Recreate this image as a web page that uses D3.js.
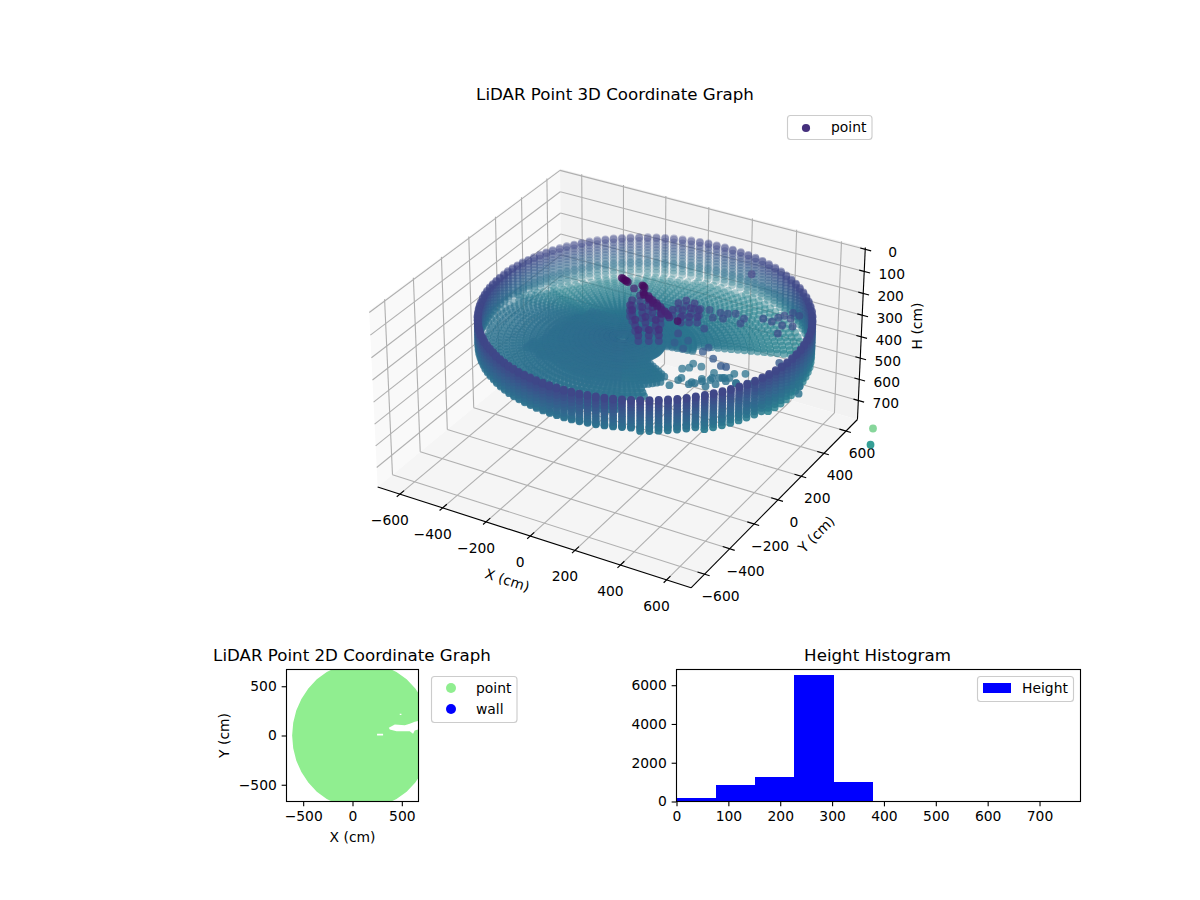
<!DOCTYPE html>
<html lang="en">
<head>
<meta charset="utf-8">
<title>LiDAR Point Graphs</title>
<script src="https://cdnjs.cloudflare.com/ajax/libs/d3/7.8.5/d3.min.js"></script>
<style>
	body { margin: 0; background: #fff; }
	text { font-family: "DejaVu Sans", sans-serif; fill: #000; }
	.axis text { font-size: 13.89px; }
	.axis path, .axis line { stroke: #000; stroke-width: 1.11px; }
</style>
</head>
<body>
<script>

//Scan columns: one azimuth (deg) and one wall range (cm) for each column
var scanAzimuth = [0,3,6,9,12,15,18,21,24,27,30,33,36,39,42,45,48,51,54,57,60,63,66,69,72,75,78,81,84,87,
	90,93,96,99,102,105,108,111,114,117,120,123,126,129,132,135,138,141,144,147,150,153,156,159,162,165,168,171,174,177,
	180,183,186,189,192,195,198,201,204,207,210,213,216,219,222,225,228,231,234,237,240,243,246,249,252,255,258,261,264,267,
	270,273,276,279,282,285,288,291,294,297,300,303,306,309,312,315,318,321,324,327,330,333,336,339,342,345,348,351,354,357];
var wallRange = [726,729,731,734,736,738,740,742,743,744,745,746,746,746,746,745,744,743,741,739,738,736,733,731,728,725,722,717,714,710,
	707,702,698,693,689,684,680,675,671,666,661,657,652,648,643,638,633,629,624,621,616,612,607,603,600,596,593,590,585,583,
	580,578,576,574,572,570,568,567,566,565,565,564,564,564,564,565,565,567,568,569,570,573,575,577,580,582,585,587,590,594,
	597,601,604,609,613,618,621,626,630,635,639,644,649,654,658,663,668,673,677,682,686,691,695,700,704,709,713,716,720,723];
var wallHeights = [160,165,178,192,206,220,234,248,262,276,282,295,310,325,340];
var wallFootBase = 282;

//Floor: range rings and the height read at each ring
var floorRanges = [40,60,80,100,120,140,160,180,200,220,240,260,280,300,326,352,378,404,430,456,482,508,534,560,586,612,638,664,690,716,740];
var floorProfile = [262,263,264,265,266,267,268,269,270,271,272,273,274,275,276,277,279,280,281,282,283,284,285,286,287,288,289,290,291,292,292];
//Per column: furthest floor range, and how far the far side of the floor drops (cm)
var floorLimit = [170,170,170,170,170,170,170,280,280,280,999,999,999,999,999,999,999,999,999,999,999,999,999,999,999,999,999,999,999,999,
	999,999,999,999,999,999,999,999,999,999,999,999,999,999,999,999,999,999,999,999,999,999,999,999,999,999,999,999,999,999,
	999,999,999,999,999,999,999,999,999,999,520,520,520,520,520,520,520,520,520,520,540,540,540,540,540,540,540,540,540,540,
	540,540,540,540,540,520,520,520,520,520,420,420,420,420,420,340,340,340,340,340,300,300,170,170,170,170,170,170,170,170];
var floorRise = [50,50,50,50,50,50,50,50,50,50,50,50,50,50,50,50,50,50,50,50,50,50,50,50,50,50,50,50,50,50,
	50,50,50,50,50,50,50,50,50,50,50,50,50,50,50,50,50,50,50,50,40,35,30,25,20,15,10,8,6,4,
	2,0,0,0,0,0,0,0,0,0,0,0,0,0,0,0,0,0,0,0,0,0,0,0,0,0,0,0,0,0,
	0,0,0,0,0,0,0,0,0,0,10,12,14,16,18,20,22,24,26,28,30,32,34,36,38,40,42,44,46,48];

//Dense patch of returns in the middle of the floor
var patchX = [-300,-275,-250,-225,-200,-175,-150,-125,-100,-75,-50,-25,0,25,50,75,100,125];
var patchY = [-300,-275,-250,-225,-200,-175,-150,-125,-100,-75,-50,-25,0,25,50,75,100,125,150,175];
var patchOutlineX = [-314,-232,122,44];
var patchOutlineY = [-237,174,105,-305];
var patchHeight = 275;

//Loose points: objects hanging above the floor, sparse floor returns, and the two low outliers
var objX = [-20,1,17,-12,8,19,83,75,90,93,117,138,154,175,201,222,311,
	93,117,138,154,175,201,222,100,125,145,165,190,
	19,27,74,59,81,116,166,108,131,177,158,193,226,32,
	19,27,74,59,81,116,166,108,131,177,158,193,226,32,
	19,27,74,59,81,116,166,108,131,177,158,193,226,32,
	171,186,226,212,232,267,233,261,288,178,
	171,186,226,212,232,267,233,261,288,178,
	229,264,305,313,344,341,368,415,421,480,520,527,541,559,592,569,573,608,584,318,249,
	234,286,272,363,367,424,476,497,659,695,690,690,684,
	314,296,353,316,490,527,418,472,529,378,400,432,328,325,315,454,489,774,752,724,
	417,439,473,400,384,447,473,496,537,590,638,703,655,
	303,959,1105];
var objY = [33,22,15,30,20,61,24,28,20,5,3,-2,1,-4,-16,-29,-114,
	15,13,8,11,6,-6,-19,-5,-7,-12,-14,-26,
	46,95,77,-22,17,37,12,-85,-45,-46,-148,-128,-108,7,
	46,95,77,-22,17,37,12,-85,-45,-46,-148,-128,-108,7,
	46,95,77,-22,17,37,12,-85,-45,-46,-148,-128,-108,7,
	146,182,177,106,136,138,54,70,86,87,
	146,182,177,106,136,138,54,70,86,87,
	220,231,182,232,195,239,255,236,195,274,269,310,336,374,365,262,327,275,197,89,4,
	4,-21,44,-4,35,-32,-66,-63,67,61,149,194,237,
	10,-46,5,-25,20,42,-12,-27,-39,-118,-77,-68,-110,-130,-181,-37,-17,10,62,73,
	-107,-66,-46,-134,-152,-134,-101,-61,-55,-33,-70,-105,-178,
	510,303,-34];
var objH = [10,10,10,10,10,60,15,15,18,30,40,50,60,70,75,80,40,
	45,55,65,75,85,90,95,35,45,55,65,85,
	130,130,130,130,130,130,130,130,130,130,130,130,130,130,
	105,105,105,105,105,105,105,105,105,105,105,105,105,105,
	155,155,155,155,155,155,155,155,155,155,155,155,155,155,
	150,150,150,150,150,150,150,150,150,150,
	125,125,125,125,125,125,125,125,125,125,
	170,170,170,170,170,170,170,170,170,170,170,170,170,170,170,170,170,170,170,170,170,
	215,215,215,215,215,215,215,215,215,215,215,215,215,
	290,290,290,290,290,290,290,290,290,290,290,290,290,290,290,290,290,290,290,290,
	280,280,280,280,280,280,280,280,280,280,280,280,280,
	130,545,395];

var heightMax = 758;

//3D axis ticks and limits
var xTicks = [-600,-400,-200,0,200,400,600];
var yTicks = [-600,-400,-200,0,200,400,600];
var hTicks = [0,100,200,300,400,500,600,700];
var xyLimit = [-705,705];
var hLimit = [-8,791];

//2D plan outline (cm), with the gaps in it
var outlineX = [804,793,761,708,637,549,446,334,213,89,-32,-151,-261,-362,-448,-518,-570,-601,-612,-601,-570,-518,-448,-362,-261,-151,-32,89,213,334,446,549,637,708,761,793];
var outlineY = [0,129,255,371,478,570,644,699,732,744,732,699,644,570,478,371,255,129,0,-129,-255,-371,-478,-570,-644,-699,-732,-744,-732,-699,-644,-570,-478,-371,-255,-129];
var slitX = [368,429,530,580,631,665,700,700,665,631,614,580,446,378];
var slitY = [78,112,105,119,139,146,146,61,61,51,17,44,44,61];
var chipX = [249,310,310,249];
var chipY = [17,17,0,0];
var nickX = [479,496,496,479];
var nickY = [221,221,207,207];
var planTicks = [-500,0,500];

//Histogram
var binEdges = [0,76,152,227,304,379];
var binCounts = [155,840,1245,6510,985];
var histXTicks = [0,100,200,300,400,500,600,700];
var histYTicks = [0,2000,4000,6000];

//Figure
var w = 1200;
var h = 900;
var svg = d3.select("body").append("svg").attr("width", w).attr("height", h);

//mplot3d style view: elev 30, azim -60, camera distance 10
var elev = 30 * Math.PI / 180, azim = -60 * Math.PI / 180, dist = 10;
var viewW = [Math.cos(elev) * Math.cos(azim), Math.cos(elev) * Math.sin(azim), Math.sin(elev)];
var viewU = [-Math.sin(azim), Math.cos(azim), 0];
var viewV = [viewW[1] * viewU[2] - viewW[2] * viewU[1], viewW[2] * viewU[0] - viewW[0] * viewU[2], viewW[0] * viewU[1] - viewW[1] * viewU[0]];

var boxX = d3.scaleLinear().domain(xyLimit).range([-0.595, 0.595]);
var boxY = d3.scaleLinear().domain(xyLimit).range([-0.595, 0.595]);
var boxH = d3.scaleLinear().domain(hLimit).range([0.335, -0.335]);
var screenX = d3.scaleLinear().domain([-0.095, 0.09]).range([337, 892]);
var screenY = d3.scaleLinear().domain([-0.095, 0.09]).range([652, 97]);

function dot(a, b) { return a[0] * b[0] + a[1] * b[1] + a[2] * b[2]; }

function project(x, y, z) {
	var p = [boxX(x), boxY(y), boxH(z)];
	var depth = dist - dot(p, viewW);
	return { x: screenX(dot(p, viewU) / depth), y: screenY(dot(p, viewV) / depth), depth: depth };
}

var xMin = xyLimit[0], xMax = xyLimit[1], hTop = hLimit[0], hBottom = hLimit[1];

//Panes
function pane(corners, fill) {
	svg.append("polygon")
		.attr("points", corners.map(function(c) {
			var p = project(c[0], c[1], c[2]);
			return p.x + "," + p.y;
		}).join(" "))
		.attr("fill", fill);
}
pane([[xMin,xMin,hTop],[xMin,xMax,hTop],[xMin,xMax,hBottom],[xMin,xMin,hBottom]], "#f9f9f9");
pane([[xMin,xMax,hTop],[xMax,xMax,hTop],[xMax,xMax,hBottom],[xMin,xMax,hBottom]], "#f2f2f2");
pane([[xMin,xMin,hBottom],[xMin,xMax,hBottom],[xMax,xMax,hBottom],[xMax,xMin,hBottom]], "#f5f5f5");

function seg(a, b, color, width) {
	var p = project(a[0], a[1], a[2]);
	var q = project(b[0], b[1], b[2]);
	svg.append("line")
		.attr("x1", p.x).attr("y1", p.y)
		.attr("x2", q.x).attr("y2", q.y)
		.attr("stroke", color)
		.attr("stroke-width", width);
}

//Grid lines
var gridColor = "#b0b0b0";
xTicks.forEach(function(t) {
	seg([t,xMin,hBottom], [t,xMax,hBottom], gridColor, 1.11);
	seg([t,xMax,hBottom], [t,xMax,hTop], gridColor, 1.11);
});
yTicks.forEach(function(t) {
	seg([xMin,t,hBottom], [xMax,t,hBottom], gridColor, 1.11);
	seg([xMin,t,hBottom], [xMin,t,hTop], gridColor, 1.11);
});
hTicks.forEach(function(t) {
	seg([xMin,xMin,t], [xMin,xMax,t], gridColor, 1.11);
	seg([xMin,xMax,t], [xMax,xMax,t], gridColor, 1.11);
});

//Axis lines
seg([xMin,xMin,hBottom], [xMax,xMin,hBottom], "#000", 1.11);
seg([xMax,xMin,hBottom], [xMax,xMax,hBottom], "#000", 1.11);
seg([xMax,xMax,hBottom], [xMax,xMax,hTop], "#000", 1.11);

var fmt = d3.format("d");

function tickLabel(p, dx, dy, label) {
	svg.append("text")
		.attr("x", p.x + dx).attr("y", p.y + dy + 5)
		.attr("text-anchor", "middle")
		.attr("font-size", "13.89px")
		.text(label);
}

xTicks.forEach(function(t) {
	seg([t,xMin+30,hBottom], [t,xMin-22,hBottom], "#000", 1.11);
	tickLabel(project(t,xMin,hBottom), -10, 26, fmt(t));
});
yTicks.forEach(function(t) {
	seg([xMax-30,t,hBottom], [xMax+22,t,hBottom], "#000", 1.11);
	tickLabel(project(xMax,t,hBottom), 16, 22, fmt(t));
});
hTicks.forEach(function(t) {
	seg([xMax-22,xMax,t], [xMax+26,xMax,t], "#000", 1.11);
	tickLabel(project(xMax,xMax,t), 27.5, 3, fmt(t));
});

function rotatedLabel(x, y, angle, label) {
	svg.append("text")
		.attr("transform", "translate(" + x + "," + y + ") rotate(" + angle + ")")
		.attr("text-anchor", "middle")
		.attr("dominant-baseline", "middle")
		.attr("font-size", "13.89px")
		.text(label);
}
rotatedLabel(507, 581, 18, "X (cm)");
rotatedLabel(817, 535, -45, "Y (cm)");
rotatedLabel(917.5, 326, -90, "H (cm)");

//Build the 3D point list from the scan arrays
var points = [];
scanAzimuth.forEach(function(az, i) {
	var a = az * Math.PI / 180;
	wallHeights.forEach(function(wh) {
		if (wh <= wallFootBase + floorRise[i]) {
			points.push({ x: wallRange[i] * Math.cos(a), y: wallRange[i] * Math.sin(a), h: wh });
		}
	});
	floorRanges.forEach(function(r, k) {
		if (r < wallRange[i] - 8 && r <= floorLimit[i]) {
			points.push({ x: r * Math.cos(a), y: r * Math.sin(a), h: floorProfile[k] + floorRise[i] * r / wallRange[i] });
		}
	});
});
var patchOutline = patchOutlineX.map(function(x, i) { return [x, patchOutlineY[i]]; });
patchX.forEach(function(x) {
	patchY.forEach(function(y) {
		if (d3.polygonContains(patchOutline, [x, y])) {
			points.push({ x: x, y: y, h: patchHeight });
		}
	});
});
objX.forEach(function(x, i) {
	points.push({ x: x, y: objY[i], h: objH[i] });
});

points.forEach(function(d) {
	var p = project(d.x, d.y, d.h);
	d.sx = p.x; d.sy = p.y; d.depth = p.depth;
});
var depthRange = d3.extent(points, function(d) { return d.depth; });
var alphaScale = d3.scaleLinear().domain(depthRange).range([1, 0.3]);
var colorScale = d3.scaleSequential(d3.interpolateViridis).domain([0, heightMax]);
points.sort(function(a, b) { return b.depth - a.depth; });

svg.append("g").selectAll("circle")
	.data(points)
	.enter()
	.append("circle")
	.attr("cx", function(d) { return d.sx; })
	.attr("cy", function(d) { return d.sy; })
	.attr("r", 3.9)
	.attr("fill", function(d) { return colorScale(d.h); })
	.attr("fill-opacity", function(d) { return alphaScale(d.depth); });

function bigTitle(x, y, label) {
	svg.append("text")
		.attr("x", x).attr("y", y)
		.attr("text-anchor", "middle")
		.attr("font-size", "16.67px")
		.text(label);
}
bigTitle(615, 100, "LiDAR Point 3D Coordinate Graph");

function legendBox(x, y, bw, bh) {
	svg.append("rect")
		.attr("x", x).attr("y", y)
		.attr("width", bw).attr("height", bh)
		.attr("rx", 3)
		.attr("fill", "#fff")
		.attr("fill-opacity", 0.8)
		.attr("stroke", "#ccc")
		.attr("stroke-width", 1.11);
}
function legendText(x, y, label) {
	svg.append("text").attr("x", x).attr("y", y).attr("font-size", "13.89px").text(label);
}

//3D legend
legendBox(787.5, 115.5, 84.5, 24);
svg.append("circle").attr("cx", 806).attr("cy", 128).attr("r", 4.1).attr("fill", "#45307d");
legendText(831, 132, "point");

//2D plan
var plan = { left: 286.5, right: 418.5, top: 669.5, bottom: 801.5 };
var planX = d3.scaleLinear().domain([-669, 669]).range([plan.left, plan.right]);
var planY = d3.scaleLinear().domain([-670, 670]).range([plan.bottom, plan.top]);

svg.append("clipPath").attr("id", "planClip").append("rect")
	.attr("x", plan.left).attr("y", plan.top)
	.attr("width", plan.right - plan.left).attr("height", plan.bottom - plan.top);

var planLine = d3.line()
	.x(function(d) { return planX(d[0]); })
	.y(function(d) { return planY(d[1]); });
function zipPath(xs, ys) {
	return planLine(xs.map(function(x, i) { return [x, ys[i]]; })) + "Z";
}
svg.append("path")
	.attr("d", zipPath(outlineX, outlineY) + zipPath(slitX, slitY) + zipPath(chipX, chipY) + zipPath(nickX, nickY))
	.attr("fill", "#90ee90")
	.attr("fill-rule", "evenodd")
	.attr("clip-path", "url(#planClip)");

svg.append("rect")
	.attr("x", plan.left).attr("y", plan.top)
	.attr("width", plan.right - plan.left).attr("height", plan.bottom - plan.top)
	.attr("fill", "none").attr("stroke", "#000").attr("stroke-width", 1.11);

svg.append("g").attr("class", "axis")
	.attr("transform", "translate(0," + plan.bottom + ")")
	.call(d3.axisBottom(planX).tickValues(planTicks).tickSize(4.86).tickPadding(4.86).tickFormat(fmt))
	.select(".domain").remove();
svg.append("g").attr("class", "axis")
	.attr("transform", "translate(" + plan.left + ",0)")
	.call(d3.axisLeft(planY).tickValues(planTicks).tickSize(4.86).tickPadding(4.86).tickFormat(fmt))
	.select(".domain").remove();

bigTitle(352, 661, "LiDAR Point 2D Coordinate Graph");
svg.append("text").attr("x", 352.5).attr("y", 842).attr("text-anchor", "middle").attr("font-size", "13.89px").text("X (cm)");
rotatedLabel(225, 735.5, -90, "Y (cm)");

legendBox(431.5, 676.5, 85.5, 46);
svg.append("circle").attr("cx", 451).attr("cy", 688).attr("r", 5).attr("fill", "#90ee90");
svg.append("circle").attr("cx", 451).attr("cy", 709).attr("r", 5).attr("fill", "#0000ff");
legendText(476, 693, "point");
legendText(476, 714, "wall");

//Height histogram
var hist = { left: 676.5, right: 1080.5, top: 669.5, bottom: 801.5 };
var histX = d3.scaleLinear().domain([0, 779]).range([hist.left, hist.right]);
var histY = d3.scaleLinear().domain([0, 6810]).range([hist.bottom, hist.top]);

svg.append("g").selectAll("rect")
	.data(binCounts)
	.enter()
	.append("rect")
	.attr("x", function(d, i) { return histX(binEdges[i]); })
	.attr("y", function(d) { return histY(d); })
	.attr("width", function(d, i) { return histX(binEdges[i + 1]) - histX(binEdges[i]); })
	.attr("height", function(d) { return histY(0) - histY(d); })
	.attr("fill", "#0000ff")
	.attr("shape-rendering", "crispEdges");

svg.append("rect")
	.attr("x", hist.left).attr("y", hist.top)
	.attr("width", hist.right - hist.left).attr("height", hist.bottom - hist.top)
	.attr("fill", "none").attr("stroke", "#000").attr("stroke-width", 1.11);

svg.append("g").attr("class", "axis")
	.attr("transform", "translate(0," + hist.bottom + ")")
	.call(d3.axisBottom(histX).tickValues(histXTicks).tickSize(4.86).tickPadding(4.86).tickFormat(fmt))
	.select(".domain").remove();
svg.append("g").attr("class", "axis")
	.attr("transform", "translate(" + hist.left + ",0)")
	.call(d3.axisLeft(histY).tickValues(histYTicks).tickSize(4.86).tickPadding(4.86).tickFormat(fmt))
	.select(".domain").remove();

bigTitle(877.5, 661, "Height Histogram");

legendBox(977.5, 676.5, 96, 25);
svg.append("rect").attr("x", 983).attr("y", 683).attr("width", 28).attr("height", 10).attr("fill", "#0000ff");
legendText(1022, 693, "Height");

</script>
</body>
</html>
